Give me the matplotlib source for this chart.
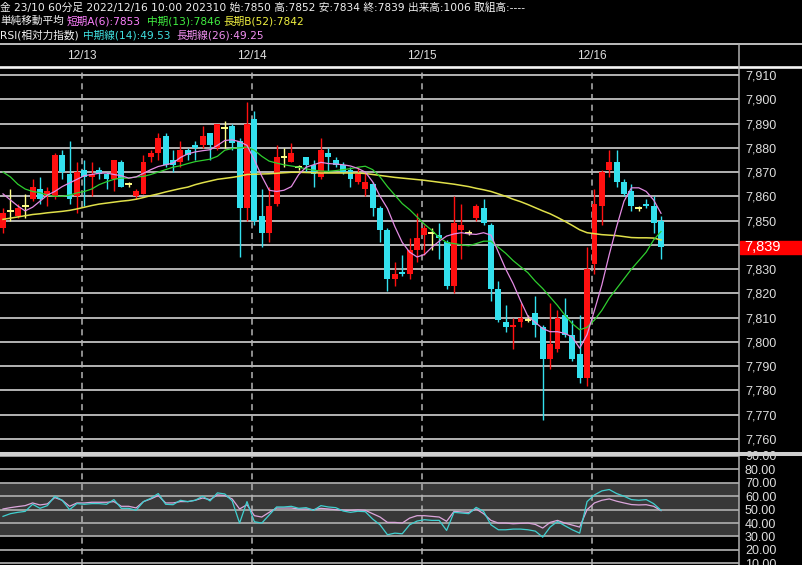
import matplotlib
matplotlib.use('Agg')
import matplotlib.pyplot as plt
from matplotlib.lines import Line2D
from matplotlib.patches import Rectangle
import matplotlib.transforms as mtransforms
import numpy as np

# ---------------- data ----------------
opens = [7847, 7854, 7852, 7856, 7859, 7863, 7860, 7860, 7877, 7869,
         7860, 7871, 7868, 7871, 7869, 7867, 7874, 7865, 7860, 7861,
         7876, 7878, 7885, 7875, 7874, 7879, 7881, 7881, 7886, 7880,
         7888, 7889, 7883, 7855, 7892, 7852, 7845, 7857, 7876, 7874,
         7872, 7876, 7873, 7868, 7878, 7875, 7873, 7871, 7866, 7863,
         7865, 7855, 7846, 7826, 7829, 7828, 7838, 7844, 7845, 7844,
         7841, 7823, 7846, 7845, 7851, 7855, 7848, 7822, 7808, 7806,
         7808, 7809, 7812, 7806, 7793, 7797, 7811, 7803, 7795, 7785,
         7832, 7856, 7871, 7874, 7866, 7862, 7855, 7857, 7856, 7850]
highs = [7855, 7863, 7857, 7861, 7867, 7868, 7864, 7878, 7879, 7883,
         7874, 7875, 7874, 7872, 7870, 7875, 7875, 7866, 7863, 7877,
         7879, 7886, 7886, 7879, 7883, 7880, 7883, 7889, 7886, 7890,
         7891, 7890, 7884, 7899, 7895, 7863, 7864, 7881, 7880, 7882,
         7873, 7876, 7875, 7884, 7880, 7876, 7874, 7872, 7872, 7870,
         7866, 7856, 7847, 7833, 7836, 7843, 7853, 7848, 7847, 7849,
         7842, 7860, 7857, 7846, 7857, 7859, 7849, 7825, 7815, 7810,
         7816, 7811, 7819, 7807, 7816, 7813, 7818, 7809, 7811, 7839,
         7863, 7871, 7879, 7879, 7867, 7865, 7856, 7859, 7860, 7852]
lows = [7845, 7850, 7851, 7851, 7858, 7857, 7856, 7859, 7867, 7857,
        7853, 7856, 7860, 7867, 7863, 7862, 7864, 7864, 7859, 7861,
        7874, 7875, 7872, 7870, 7872, 7875, 7875, 7880, 7875, 7879,
        7880, 7879, 7835, 7850, 7848, 7839, 7841, 7856, 7872, 7874,
        7871, 7870, 7864, 7867, 7870, 7872, 7869, 7864, 7865, 7860,
        7852, 7841, 7821, 7823, 7827, 7826, 7833, 7836, 7838, 7834,
        7822, 7820, 7834, 7844, 7850, 7848, 7817, 7808, 7804, 7797,
        7806, 7808, 7802, 7768, 7789, 7796, 7802, 7792, 7783, 7782,
        7828, 7848, 7868, 7864, 7860, 7854, 7854, 7855, 7845, 7834]
closes = [7853, 7854, 7855, 7856, 7864, 7859, 7862, 7877, 7870, 7859,
          7870, 7868, 7869, 7869, 7867, 7875, 7864, 7865, 7862, 7874,
          7878, 7884, 7873, 7873, 7879, 7877, 7880, 7885, 7881, 7890,
          7888, 7882, 7855, 7890, 7850, 7845, 7856, 7876, 7876, 7878,
          7872, 7873, 7869, 7879, 7876, 7873, 7870, 7867, 7869, 7866,
          7855, 7846, 7826, 7828, 7828, 7838, 7843, 7847, 7845, 7843,
          7823, 7849, 7848, 7845, 7856, 7849, 7822, 7809, 7806, 7807,
          7810, 7809, 7807, 7793, 7799, 7810, 7803, 7793, 7785, 7830,
          7857, 7870, 7874, 7866, 7861, 7856, 7855, 7856, 7849, 7839]

ma_short = [7861, 7858.5, 7856, 7854, 7855.5, 7858, 7860.5, 7862, 7864, 7865.5,
            7867, 7868.5, 7869, 7869.5, 7869.6, 7869, 7868.5, 7867.5, 7868, 7869.5,
            7871, 7872.3, 7873, 7873.7, 7876, 7877.5, 7878.3, 7878.8, 7879.2, 7881,
            7883, 7883.3, 7882.5, 7881, 7875, 7868.3, 7862.5, 7862, 7862.5, 7864,
            7869, 7872, 7873, 7874, 7873.5, 7873.3, 7873, 7872.5, 7871.5, 7870,
            7866, 7860, 7855, 7847.5, 7841, 7837, 7835, 7836, 7839, 7841.5,
            7843.6, 7844.5, 7845, 7844.5, 7844.3, 7845, 7844, 7837, 7830, 7824,
            7817, 7810.5, 7808, 7805.5, 7804.2, 7804.2, 7803.5, 7802, 7797.4, 7803,
            7813, 7823.5, 7836, 7847.5, 7858, 7863.5, 7863.5, 7862, 7858.5, 7853]
ma_mid = [7870, 7868, 7865, 7863, 7862, 7861.5, 7860.5, 7860, 7860, 7860.5,
          7861.4, 7862, 7863, 7864.8, 7866, 7867, 7867.5, 7867.5, 7868, 7868.2,
          7869, 7870, 7871, 7872, 7872.6, 7873.5, 7874.3, 7874.8, 7875.3, 7876.5,
          7879, 7879.7, 7880, 7880.3, 7879, 7876.5, 7874.5, 7873.7, 7873, 7872.5,
          7872, 7871.3, 7870.8, 7870.4, 7870.3, 7870.6, 7871, 7871.4, 7872, 7872.4,
          7871, 7868, 7864, 7860.5, 7857, 7854.5, 7851.5, 7848.5, 7846, 7843,
          7841, 7840.5, 7840, 7839.6, 7840.5, 7841.5, 7841.5, 7839, 7836.5, 7833.5,
          7831, 7828.5, 7825, 7822, 7818.5, 7815, 7811, 7807.5, 7805, 7806,
          7809, 7813, 7818, 7822, 7826, 7830, 7833.5, 7837, 7842, 7845.5]
ma_long = [7850.5, 7851, 7851.5, 7852, 7852.5, 7852.8, 7853.2, 7853.5, 7853.8, 7854.2,
           7854.8, 7855.5, 7856.2, 7856.8, 7857.2, 7857.6, 7858, 7858.3, 7858.8, 7859.5,
           7860.3, 7861, 7861.8, 7862.5, 7863.2, 7863.8, 7864.8, 7865.6, 7866.3, 7867,
           7867.4, 7867.8, 7868.3, 7869, 7869.1, 7869.2, 7869.3, 7869.5, 7869.7, 7869.9,
           7869.9, 7869.8, 7869.7, 7869.6, 7869.6, 7869.6, 7869.6, 7869.6, 7869.6, 7869.4,
           7869, 7868.6, 7868.2, 7867.8, 7867.5, 7867.2, 7866.9, 7866.6, 7866.2, 7865.8,
           7865.4, 7865, 7864.5, 7864, 7863.3, 7862.7, 7862, 7861, 7860, 7858.8,
           7857.8, 7856.6, 7855.3, 7854, 7852.8, 7851.3, 7849.7, 7848, 7846.2, 7845,
           7844.6, 7844.2, 7844, 7843.8, 7843.4, 7843, 7842.9, 7842.9, 7842.8, 7842]

rsi_mid = [45, 47, 48, 48.7, 54, 51, 53, 60, 57, 50,
           54.5, 54, 54.5, 54.5, 54, 57.5, 51, 51, 49.5, 56,
           58.5, 62, 54, 53.7, 57, 56, 57, 60, 56.5, 62.5,
           61.7, 56.5, 40, 56, 41, 40, 46, 52, 52, 52.5,
           51, 51.5, 49.5, 53, 52, 51.5, 49, 48, 48.8, 48.5,
           43, 38.7, 31.3, 32.5, 32, 38.7, 41.5, 42.5, 42, 42,
           34.5, 48, 47.5, 47, 51.7, 48.7, 38.7, 35, 35, 35.5,
           35.5, 35, 34, 29.5, 37, 41.2, 38, 35, 32.5, 56,
           61, 64, 65, 62, 60, 57.5, 57, 57.5, 54.5, 49.53]
rsi_long = [50.5, 51.5, 52.3, 53, 55, 53.5, 54.3, 59, 57, 52.5,
            55, 55, 55.5, 55.5, 55.5, 56, 52.5, 52.5, 51.3, 56,
            58, 60.5, 55, 55, 56, 56, 57, 58.7, 57.5, 61,
            60.5, 58, 50.5, 53.7, 45.5, 44.5, 48, 51.2, 51.2, 51.2,
            50.5, 50.5, 50, 51, 50.5, 50, 49.6, 49.5, 49.8, 49.5,
            47, 44.5, 40.5, 40.5, 40, 43.7, 45.5, 45.5, 45, 44.5,
            41.3, 48.7, 48.3, 48, 50.5, 47, 42, 40, 40, 39.5,
            39.8, 40, 39, 36.3, 40.5, 42, 40, 38.5, 37, 50,
            55, 57, 58, 56.3, 55, 53.8, 53.5, 53.7, 52.5, 49.25]

date_labels = ['12/13', '12/14', '12/15', '12/16']
date_first_bar = [11, 34, 57, 80]
price_ticks = list(range(7760, 7911, 10))
rsi_ticks = list(range(10, 91, 10))
volume = 1006

# ---------------- styling ----------------
plt.rcParams['font.family'] = ['Noto Sans CJK JP', 'DejaVu Sans']
HDR_FONT = ['DejaVu Sans', 'Noto Sans CJK JP']
W, H = 803, 565
fig = plt.figure(figsize=(W / 100, H / 100), dpi=100, facecolor='black')

def fx(p):
    return p / W

def fy(p):
    return 1 - p / H

UP, DOWN, DOJI = '#ff1010', '#33e0ee', '#ffff88'
PINK, GREEN, YELLOW = '#e38be3', '#2fcf2f', '#e0e04a'
RSI_C, RSI_P = '#40d0d0', '#dca6dc'
num_font = 'Liberation Sans'

# price panel: y from 67 to 453 px
ax = fig.add_axes([0, fy(453), fx(739), (453 - 67) / H])
rx = fig.add_axes([0, 0, fx(739), (565 - 456) / H])

n = len(closes)
x = np.arange(n)
O = np.array(opens, float); C = np.array(closes, float)
Hh = np.array(highs, float); L = np.array(lows, float)
cols = np.where(C > O, UP, np.where(C < O, DOWN, DOJI))
dj = C == O

xlim = (-0.406, 99.55)
for a in (ax, rx):
    a.set_facecolor('black')
    a.set_xlim(*xlim)
    for s in a.spines.values():
        s.set_visible(False)
    a.set_xticks([])
    a.yaxis.tick_right()
    a.tick_params(axis='y', length=0, pad=4.3, labelcolor='#dedede', labelsize=9)
    a.set_axisbelow(True)

ax.set_ylim(7754.2, 7913.3)
ax.set_yticks(price_ticks)
box_h = 13 / 2.4267
# the last-price box hides the tick label it sits on
ax.set_yticklabels(['' if abs(v - closes[-1]) < box_h else f'{v:,}' for v in price_ticks],
                   fontfamily=num_font)
ax.grid(axis='y', color='#e4e4e4', lw=1.1)

# date separators
for a in (ax, rx):
    for b in date_first_bar:
        a.axvline(b - 0.3, color='#b4b4b4', lw=1.1, ls=(0, (4, 3)), zorder=1)

# candles
ax.vlines(x, L, Hh, colors=cols, lw=1.0, zorder=3)
ax.bar(x[~dj], np.abs(C - O)[~dj], bottom=np.minimum(O, C)[~dj], width=0.8,
       color=cols[~dj], linewidth=0, zorder=4)
ax.hlines(C[dj], x[dj] - 0.45, x[dj] + 0.45, colors=DOJI, lw=1.4, zorder=4)

# moving averages
ax.plot(x, ma_long, color=YELLOW, lw=1.1, zorder=5)
ax.plot(x, ma_mid, color=GREEN, lw=0.9, zorder=5)
ax.plot(x, ma_short, color=PINK, lw=0.9, zorder=6)

# last price box
bt = mtransforms.blended_transform_factory(ax.transAxes, ax.transData)
ax.add_patch(Rectangle((740 / 739, closes[-1] - box_h / 2), 63 / 739, box_h,
                       transform=bt, color='#ff0000', clip_on=False, zorder=8))
ax.text(744 / 739, closes[-1], f'{closes[-1]:,}', transform=bt, color='white',
        fontsize=10.5, fontfamily=num_font, ha='left', va='center',
        clip_on=False, zorder=9)

# date labels
dt = mtransforms.blended_transform_factory(ax.transData, ax.transAxes)
for lab, b in zip(date_labels, date_first_bar):
    ax.text(b - 0.3, 1 + (67 - 56) / 386, lab, transform=dt, color='#e0e0e0',
            fontsize=8.5, fontfamily=num_font, ha='center', va='center', clip_on=False)

# RSI panel
rx.set_ylim(8.74, 89.78)
rx.set_yticks(rsi_ticks)
rx.set_yticklabels([f'{v:.2f}' for v in rsi_ticks], fontfamily=num_font)
rx.axhspan(30, 70, color='#383838', zorder=0.5, lw=0)
rx.grid(axis='y', color='#a6a6a6', lw=1.3)
rx.plot(x, rsi_long, color=RSI_P, lw=0.9, zorder=5)
rx.plot(x, rsi_mid, color=RSI_C, lw=0.9, zorder=5)

# frame lines
def fline(x0, y0, x1, y1, color, lw):
    fig.add_artist(Line2D([fx(x0), fx(x1)], [fy(y0), fy(y1)], color=color, lw=lw,
                          transform=fig.transFigure, zorder=10))

fline(0, 44, W, 44, '#f0f0f0', 1.1)
fline(0, 67, W, 67, '#f4f4f4', 1.9)
fline(739, 44, 739, H, '#b0b0b0', 1.1)
fline(0, 454, W, 454, '#cfcfcf', 2.9)

# header
hdr = (f'金 23/10 60分足 2022/12/16 10:00 202310 始:{opens[-1]} 高:{highs[-1]} '
       f'安:{lows[-1]} 終:{closes[-1]} 出来高:{volume} 取組高:----')
fs = 7.7
def htext(px, py, s, color):
    fig.text(fx(px), fy(py), s, color=color, fontsize=fs, va='center', ha='left',
             family=HDR_FONT)

htext(0, 7.5, hdr, '#f0f0f0')
htext(0, 21, '単純移動平均', '#f0f0f0')
htext(67, 21, f'短期A(6):{ma_short[-1]:.0f}', '#ff80ff')
htext(147, 21, f'中期(13):{ma_mid[-1]:.0f}', '#40ee40')
htext(223, 21, f'長期B(52):{ma_long[-1]:.0f}', '#f0f040')
htext(0, 35, 'RSI(相対力指数)', '#f0f0f0')
htext(83, 35, f'中期線(14):{rsi_mid[-1]:.2f}', '#40e0e0')
htext(176, 35, f'長期線(26):{rsi_long[-1]:.2f}', '#f090f0')

fig.savefig('out.png', dpi=100, facecolor='black')
